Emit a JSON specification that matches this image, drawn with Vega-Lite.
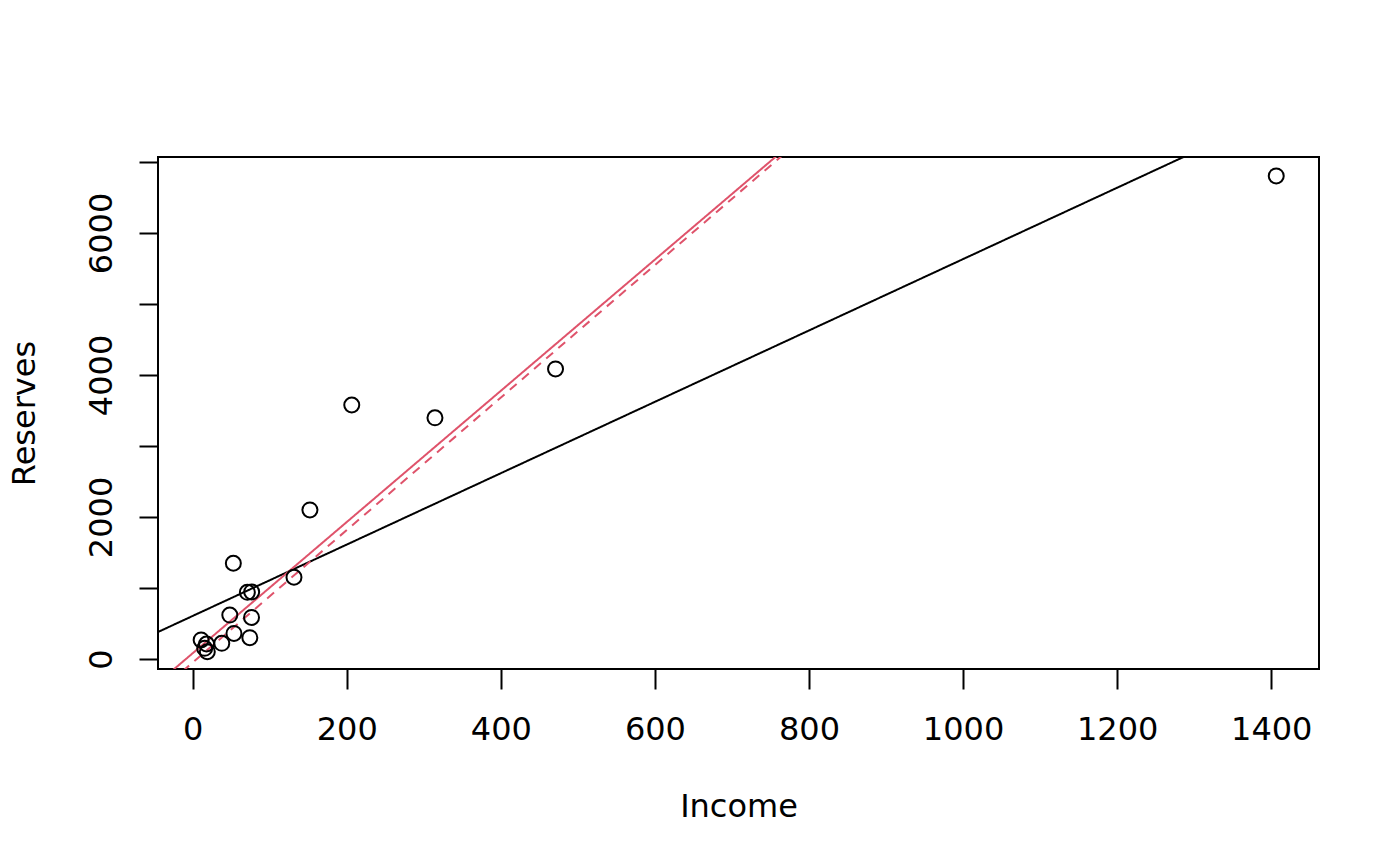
{
  "$schema": "https://vega.github.io/schema/vega-lite/v6.json",
  "width": 1161,
  "height": 512,
  "autosize": {"type": "none"},
  "padding": {"left": 158, "top": 157, "right": 81, "bottom": 197},
  "background": "white",
  "config": {
    "view": {"stroke": "black", "strokeWidth": 2},
    "font": "DejaVu Sans"
  },
  "datasets": {
    "points": [
      {"Income": 1406.5, "Reserves": 6803},
      {"Income": 471, "Reserves": 4085},
      {"Income": 206.5, "Reserves": 3577},
      {"Income": 314.5, "Reserves": 3397},
      {"Income": 152.2, "Reserves": 2099},
      {"Income": 52.8, "Reserves": 1348},
      {"Income": 131.5, "Reserves": 1151},
      {"Income": 71, "Reserves": 939},
      {"Income": 76.6, "Reserves": 944},
      {"Income": 48.2, "Reserves": 618},
      {"Income": 76.4, "Reserves": 585},
      {"Income": 53.6, "Reserves": 360},
      {"Income": 74.2, "Reserves": 300},
      {"Income": 37.8, "Reserves": 221},
      {"Income": 11, "Reserves": 268},
      {"Income": 18, "Reserves": 211},
      {"Income": 15.6, "Reserves": 150},
      {"Income": 19, "Reserves": 103}
    ],
    "lines": [
      {"fit": "ols", "Income": -45, "Reserves": 380},
      {"fit": "ols", "Income": 1462, "Reserves": 7954},
      {"fit": "robust", "Income": -45, "Reserves": -335},
      {"fit": "robust", "Income": 800, "Reserves": 7473},
      {"fit": "robust2", "Income": -45, "Reserves": -470},
      {"fit": "robust2", "Income": 800, "Reserves": 7414}
    ]
  },
  "layer": [
    {
      "data": {"name": "lines"},
      "mark": {"type": "line", "clip": true, "strokeWidth": 2},
      "encoding": {
        "x": {"field": "Income", "type": "quantitative"},
        "y": {"field": "Reserves", "type": "quantitative"},
        "color": {
          "field": "fit",
          "type": "nominal",
          "scale": {"domain": ["ols", "robust", "robust2"], "range": ["black", "#DF536B", "#DF536B"]},
          "legend": null
        },
        "strokeDash": {
          "field": "fit",
          "type": "nominal",
          "scale": {"domain": ["ols", "robust", "robust2"], "range": [[1, 0], [1, 0], [9, 7]]},
          "legend": null
        }
      }
    },
    {
      "data": {"name": "points"},
      "mark": {"type": "point", "shape": "circle", "filled": false, "color": "black", "strokeWidth": 2, "size": 225, "opacity": 1},
      "encoding": {
        "x": {
          "field": "Income",
          "type": "quantitative",
          "scale": {"domain": [-45, 1462], "nice": false, "zero": false},
          "axis": {
            "title": "Income",
            "values": [0, 200, 400, 600, 800, 1000, 1200, 1400],
            "format": "d",
            "grid": false,
            "domain": false,
            "ticks": true,
            "tickSize": 20,
            "tickWidth": 2,
            "tickColor": "black",
            "labelFontSize": 32,
            "labelColor": "black",
            "labelPadding": 25,
            "labelFlush": false,
            "labelOverlap": false,
            "titleFontSize": 32,
            "titleFontWeight": "normal",
            "titleColor": "black",
            "titleX": 580.5,
            "titleY": 147,
            "titleBaseline": "alphabetic",
            "titleAlign": "center"
          }
        },
        "y": {
          "field": "Reserves",
          "type": "quantitative",
          "scale": {"domain": [-141, 7070], "nice": false, "zero": false},
          "axis": {
            "title": "Reserves",
            "values": [0, 1000, 2000, 3000, 4000, 5000, 6000, 7000],
            "format": "d",
            "labelExpr": "datum.value % 2000 === 0 ? datum.label : ''",
            "grid": false,
            "domain": false,
            "tickSize": 19,
            "tickWidth": 2,
            "tickColor": "black",
            "labelFontSize": 32,
            "labelColor": "black",
            "labelAngle": -90,
            "labelAlign": "center",
            "labelBaseline": "alphabetic",
            "labelPadding": 28,
            "labelFlush": false,
            "labelOverlap": false,
            "titleFontSize": 32,
            "titleFontWeight": "normal",
            "titleColor": "black",
            "titleAngle": -90,
            "titleX": -124,
            "titleY": 256,
            "titleBaseline": "alphabetic",
            "titleAlign": "center"
          }
        }
      }
    }
  ]
}
